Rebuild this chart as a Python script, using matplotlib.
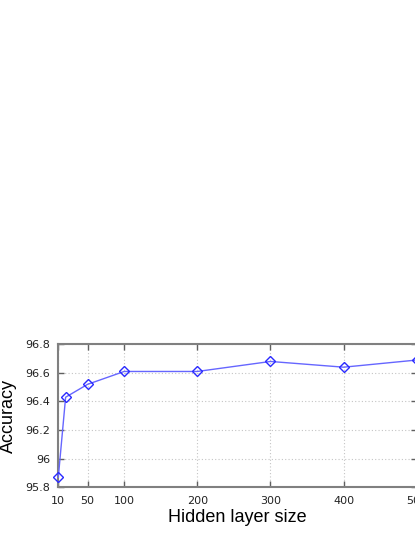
import matplotlib
matplotlib.use("Agg")
import matplotlib.pyplot as plt

# hidden layer sizes and test accuracy
hidden_sizes = [10, 20, 50, 100, 200, 300, 400, 500]
accuracy = [95.87, 96.43, 96.52, 96.61, 96.61, 96.68, 96.64, 96.69]
xtick_values = [10, 50, 100, 200, 300, 400, 500]
ytick_values = [95.8, 96.0, 96.2, 96.4, 96.6, 96.8]
ytick_labels = ["95.8", "96", "96.2", "96.4", "96.6", "96.8"]

fig = plt.figure(figsize=(4.15, 5.37), dpi=100)
W, H = 415, 537
left, right, top, bottom = 58.3, 416.8, 344.3, 487.3
ax = fig.add_axes([left / W, 1 - bottom / H, (right - left) / W, (bottom - top) / H])

ax.plot(hidden_sizes, accuracy, color="#6666ff", linewidth=1.0,
        marker="D", markersize=5.5, markerfacecolor="none",
        markeredgecolor="#2a2aff", markeredgewidth=1.0, clip_on=False, zorder=3)

ax.set_xlim(10, 500)
ax.set_ylim(95.8, 96.8)
ax.set_xticks(xtick_values)
ax.set_yticks(ytick_values)
ax.set_yticklabels(ytick_labels)

ax.grid(True, linestyle=(0, (1, 2)), color="#c4c4c4", linewidth=0.8)
for sp in ax.spines.values():
    sp.set_color("#808080")
    sp.set_linewidth(1.5)
ax.tick_params(direction="in", length=4, width=1, color="#606060",
               top=True, right=True, labelsize=8, pad=6, labelcolor="#222222")

ax.set_xlabel("Hidden layer size", fontsize=13, family="Liberation Sans")
ax.set_ylabel("Accuracy", fontsize=13, family="Liberation Sans")
ax.xaxis.set_label_coords(0.5, (bottom - 509.5) / (bottom - top))
ax.yaxis.set_label_coords((16.5 - left) / (right - left), 0.5)

fig.savefig("out.png", dpi=100)
